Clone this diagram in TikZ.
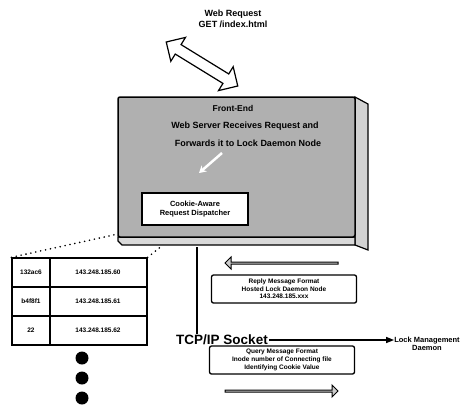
\documentclass[tikz,border=0pt]{standalone}
\usepackage{fontspec}
\setmainfont{Liberation Sans}
\usetikzlibrary{shapes.arrows,arrows.meta}
\begin{document}
\begin{tikzpicture}[x=1pt,y=-1pt,
  lbl/.style={font=\bfseries\fontsize{8.5}{10}\selectfont, align=center, inner sep=0},
  small/.style={font=\bfseries\fontsize{6.5}{7.6}\selectfont, align=center, inner sep=0},
  msgbox/.style={draw, line width=1.3pt, fill=white, rounded corners=2pt, minimum width=145pt, minimum height=28pt, inner sep=1pt},
  blockarrow/.style={single arrow, draw, line width=1pt, fill=gray!40, minimum height=113pt, minimum width=12pt, single arrow head extend=2.5pt, inner sep=0},
  dotline/.style={line width=1.8pt, line cap=round, dash pattern=on 0pt off 5pt},
  cell/.style={font=\bfseries\fontsize{6.5}{8}\selectfont, inner sep=0}]
\useasboundingbox (0,0) rectangle (464,405);

% web request arrow
\node[double arrow, draw, line width=1.2pt, fill=white, minimum height=84pt, minimum width=28pt,
      double arrow head extend=6pt, rotate=-31.6] (web) at (202,64) {};
\node[lbl, font=\bfseries\fontsize{9}{11}\selectfont] (webtxt) at (233,19) {Web Request\\GET /index.html};

% front-end server slab
\filldraw[fill=gray!35, line width=1.2pt] (355,97) -- (368,104) -- (368,250) -- (355,245) -- cycle;
\filldraw[fill=gray!30, line width=1.2pt] (118,237) -- (355,237) -- (355,245) -- (122,245) -- (118,241) -- cycle;
\filldraw[fill=gray!62, line width=1.5pt, rounded corners=2pt] (118,97) rectangle (355,237);
\node[lbl] (fe) at (233,108) {Front-End};
\node[lbl, font=\bfseries\fontsize{9}{10}\selectfont] (fe2) at (245,126) {Web Server Receives Request and};
\node[lbl, font=\bfseries\fontsize{9}{10}\selectfont] (fe3) at (248,143) {Forwards it to Lock Daemon Node};
\coordinate (wa1) at (222,153);
\coordinate (wa2) at (199,173);
\draw[white, line width=2.5pt, -{Stealth[length=7pt,width=8pt]}] (wa1) -- (wa2);

% dispatcher
\node[draw, fill=white, line width=1.3pt, minimum width=106pt, minimum height=32pt, align=center,
      font=\bfseries\fontsize{7.5}{9}\selectfont] (disp) at (195,209) {Cookie-Aware\\Request Dispatcher};

% TCP/IP socket and lock daemon
\node[font=\bfseries\fontsize{13.5}{15}\selectfont, inner sep=1pt] (tcp) at (222,340) {TCP/IP Socket};
\coordinate (vtop) at (197,247);
\draw[line width=2.2pt] (vtop) -- (vtop |- tcp.north);
\node[lbl, font=\bfseries\fontsize{7.5}{8.5}\selectfont] (lock) at (427,344) {Lock Management\\Daemon};
\draw[line width=1.3pt, -{Triangle[length=8pt,width=6pt]}] (tcp.east) -- (lock.west |- tcp.east);

% reply
\node[blockarrow, shape border rotate=180] (rarr) at (282,263) {};
\node[msgbox] (reply) at (284,289) {};
\node[small] (replytxt) at (reply.center) {Reply Message Format\\Hosted Lock Daemon Node\\143.248.185.xxx};

% query
\node[msgbox] (query) at (282,360) {};
\node[small] (querytxt) at (query.center) {Query Message Format\\Inode number of Connecting file\\Identifying Cookie Value};
\node[blockarrow] (qarr) at (281,391) {};

% table
\node[draw, line width=1.3pt, minimum width=135pt, minimum height=87pt, inner sep=0] (tbl) at (79.5,301.5) {};
\coordinate (c1) at (50,258);
\coordinate (r1) at (12,287);
\coordinate (r2) at (12,316);
\draw[line width=1.2pt] (c1) -- (c1 |- tbl.south);
\draw[line width=1.2pt] (r1) -- (r1 -| tbl.east);
\draw[line width=1.2pt] (r2) -- (r2 -| tbl.east);
\node[cell] (k1) at (31,272) {132ac6};
\node[cell] (k2) at (31,301) {b4f8f1};
\node[cell] (k3) at (31,330) {22};
\node[cell] (v1) at (98,272) {143.248.185.60};
\node[cell] (v2) at (98,301) {143.248.185.61};
\node[cell] (v3) at (98,330) {143.248.185.62};
\fill (82,358) circle (6.5pt);
\fill (82,378) circle (6.5pt);
\fill (82,398) circle (6.5pt);

% callout dotted lines
\coordinate (d1) at (118,234);
\coordinate (d2) at (163,245);
\draw[dotline] (tbl.north west) -- (d1);
\draw[dotline] (tbl.north east) -- (d2);
\end{tikzpicture}
\end{document}
